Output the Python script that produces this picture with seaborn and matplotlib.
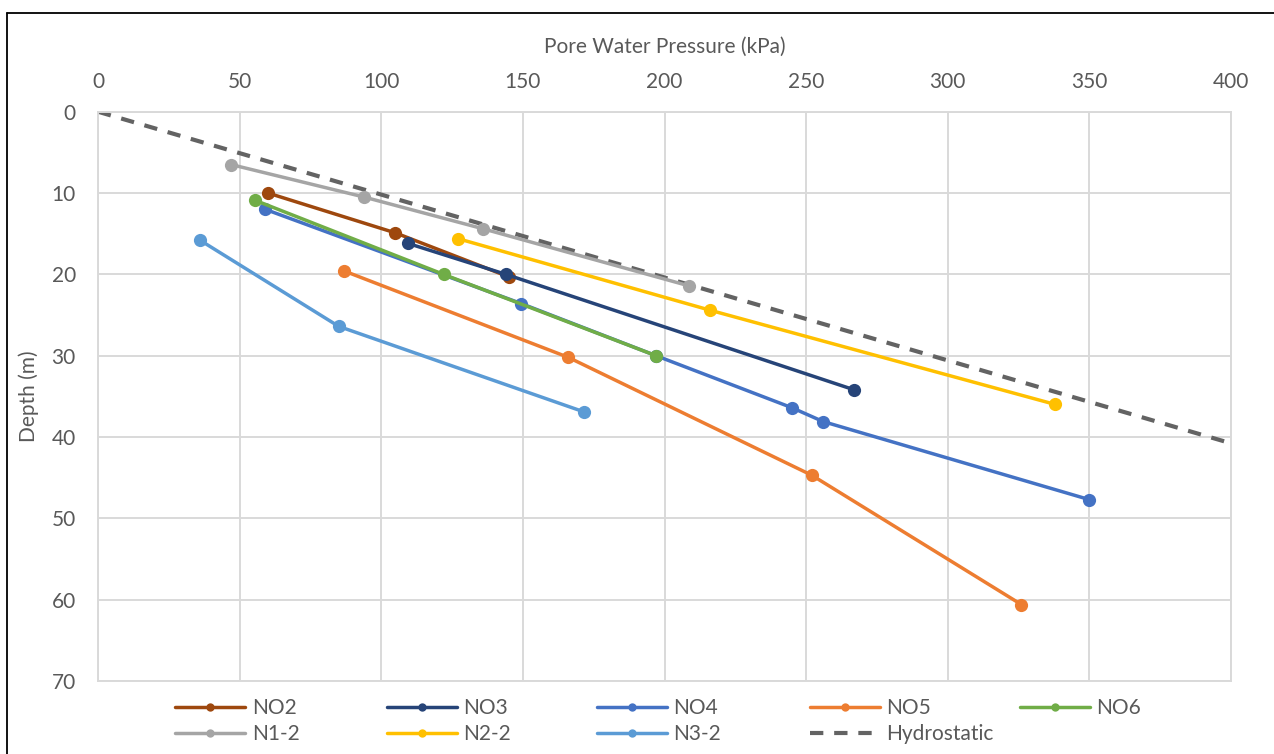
import matplotlib
matplotlib.use("Agg")
import matplotlib.pyplot as plt
from matplotlib.lines import Line2D
import seaborn as sns
import pandas as pd

# Pore water pressure (kPa) vs depth (m) for each piezometer string
no2_p = [60, 105, 145]
no2_d = [10.0, 14.9, 20.3]
no3_p = [109.5, 144, 267]
no3_d = [16.2, 20.0, 34.2]
no4_p = [59, 149.5, 197, 245, 256, 350]
no4_d = [12.0, 23.6, 30.0, 36.4, 38.1, 47.7]
no5_p = [87, 166, 252, 326]
no5_d = [19.6, 30.2, 44.7, 60.6]
no6_p = [55.5, 122, 197]
no6_d = [10.9, 20.0, 30.0]
n12_p = [47, 94, 136, 208.5]
n12_d = [6.5, 10.5, 14.4, 21.4]
n22_p = [127, 216, 338]
n22_d = [15.6, 24.4, 36.0]
n32_p = [36, 85, 171.5]
n32_d = [15.8, 26.4, 36.9]

# Hydrostatic line: u = gamma_w * z
gamma_w = 9.81
hydro_d = [0, 70]
hydro_p = [gamma_w * d for d in hydro_d]

series_names = ["NO2", "NO3", "NO4", "NO5", "NO6", "N1-2", "N2-2", "N3-2"]
series_data = [(no2_p, no2_d), (no3_p, no3_d), (no4_p, no4_d), (no5_p, no5_d),
               (no6_p, no6_d), (n12_p, n12_d), (n22_p, n22_d), (n32_p, n32_d)]
colors = {"NO2": "#9E480E", "NO3": "#264478", "NO4": "#4472C4", "NO5": "#ED7D31",
          "NO6": "#70AD47", "N1-2": "#A5A5A5", "N2-2": "#FFC000", "N3-2": "#5B9BD5"}
hydro_color = "#636363"
hydro_dash = (0, (3.2, 2.6))

x_ticks = [0, 50, 100, 150, 200, 250, 300, 350, 400]
y_ticks = [0, 10, 20, 30, 40, 50, 60, 70]

rows = []
for name, (p, d) in zip(series_names, series_data):
    for pi, di in zip(p, d):
        rows.append({"series": name, "pressure": pi, "depth": di})
df = pd.DataFrame(rows)

sns.set_theme(style="white")
plt.rcParams["font.family"] = ["Lato", "DejaVu Sans"]
text_color = "#595959"
grid_color = "#D9D9D9"
fs = 15

W, H = 1274, 754
fig = plt.figure(figsize=(W / 100, H / 100), dpi=100)
ax = fig.add_axes([98 / W, 1 - 681 / H, (1231 - 98) / W, (681 - 111.7) / H])

ax.set_axisbelow(True)
ax.grid(True, color=grid_color, linewidth=1.4)

sns.lineplot(x=hydro_p, y=hydro_d, ax=ax, color=hydro_color, linewidth=3.0,
             linestyle=hydro_dash, sort=False, legend=False, zorder=2)

for name in series_names:
    sub = df[df["series"] == name]
    sns.lineplot(data=sub, x="pressure", y="depth", ax=ax, sort=False,
                 color=colors[name], linewidth=2.5, marker="o", markersize=9.5,
                 markeredgewidth=0, legend=False, zorder=3)

ax.set_xlim(0, 400)
ax.set_ylim(70, 0)
ax.set_xticks(x_ticks)
ax.set_yticks(y_ticks)
ax.xaxis.tick_top()
ax.xaxis.set_label_position("top")
ax.tick_params(axis="both", length=0, labelsize=fs, labelcolor=text_color)
ax.tick_params(axis="x", pad=14)
ax.tick_params(axis="y", pad=16)
ax.set_xlabel("Pore Water Pressure (kPa)", fontsize=fs, color=text_color, labelpad=14)
ax.set_ylabel("Depth (m)", fontsize=fs, color=text_color, labelpad=9)
for side in ["left", "right", "top", "bottom"]:
    ax.spines[side].set_color(grid_color)
    ax.spines[side].set_linewidth(1.4)

# Legend: five equally spaced columns, two rows
handles = {}
for name in series_names:
    handles[name] = Line2D([], [], color=colors[name], linewidth=2.5, marker="o",
                           markersize=6, markeredgewidth=0)
handles["Hydrostatic"] = Line2D([], [], color=hydro_color, linewidth=3.0,
                                linestyle=hydro_dash)
columns = [["NO2", "N1-2"], ["NO3", "N2-2"], ["NO4", "N3-2"],
           ["NO5", "Hydrostatic"], ["NO6"]]
col_x = [175.5, 386.5, 597, 809.5, 1020]
for labels, x0 in zip(columns, col_x):
    leg = fig.legend([handles[k] for k in labels], labels, loc="upper left",
                     bbox_to_anchor=(x0 / W, 1 - 698 / H), frameon=False,
                     fontsize=fs, handlelength=70 / (fs * 100 / 72),
                     labelspacing=0.3, handletextpad=0.3, borderpad=0,
                     borderaxespad=0)
    for t in leg.get_texts():
        t.set_color(text_color)

# Chart frame
fig.add_artist(Line2D([7 / W, 1], [1 - 12.7 / H, 1 - 12.7 / H], color="black",
                      linewidth=1.3, transform=fig.transFigure))
fig.add_artist(Line2D([7 / W, 7 / W], [0, 1 - 12.7 / H], color="black",
                      linewidth=1.3, transform=fig.transFigure))

fig.savefig("out.png", dpi=100, facecolor="white")
